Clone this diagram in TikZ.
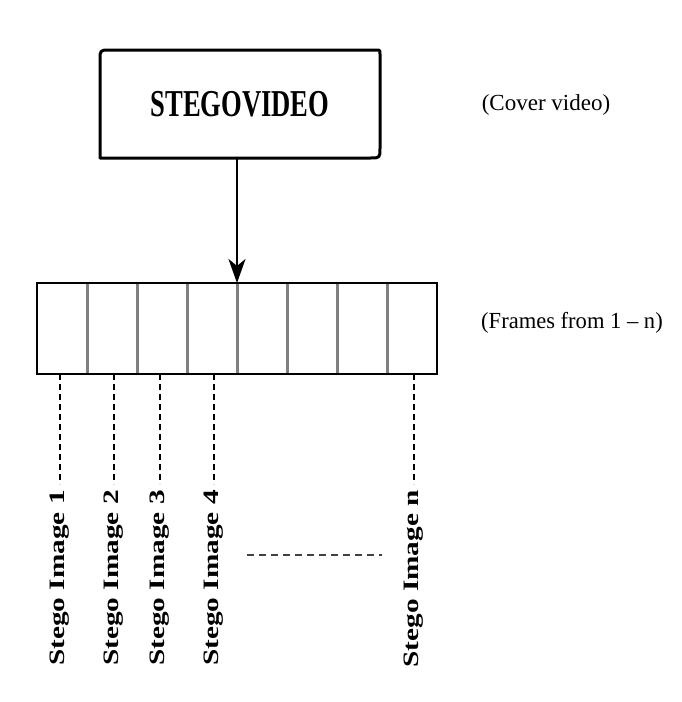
\documentclass[tikz,border=0pt]{standalone}
\usepackage{fontspec}
\setmainfont{Liberation Serif}
\usetikzlibrary{arrows.meta,calc}
\begin{document}
\begin{tikzpicture}[x=1pt,y=-1pt,
  cell/.style={minimum width=50pt,minimum height=91pt,inner sep=0pt,outer sep=0pt,anchor=north west},
  lbl/.style={rotate=90,anchor=east,inner sep=0pt,font=\fontsize{22}{22}\selectfont\bfseries},
  note/.style={inner sep=0pt,font=\fontsize{23}{23}\selectfont},
  dashline/.style={line width=1.5pt,dash pattern=on 6pt off 4pt},
  dotline/.style={line width=2pt,black!75,dash pattern=on 7pt off 5pt}]
\useasboundingbox (0,0) rectangle (682,702);
\fill[white] (0,0) rectangle (682,702);
% cover video box
\node[minimum width=280pt,minimum height=108pt,inner sep=0pt,outer sep=0pt] (video) at (240,104)
  {\raisebox{-3pt}{\scalebox{0.7}[1]{\fontsize{38}{38}\selectfont\bfseries STEGOVIDEO}}};
\draw[line width=3pt,line join=round]
  (video.south west) -- ($(video.north west)+(0,10)$)
  .. controls (video.north west) .. ($(video.north west)+(10,0)$)
  -- ($(video.north east)+(-4,0)$)
  .. controls (video.north east) .. ($(video.north east)+(0,4)$)
  -- ($(video.south east)+(0,-10)$)
  .. controls (video.south east) .. ($(video.south east)+(-10,0)$)
  -- cycle;
% frames
\foreach \i in {1,...,8} \node[cell] (c\i) at ({37+50*(\i-1)},283) {};
\foreach \i in {1,...,7} \draw[black!50,line width=3pt] (c\i.north east) -- (c\i.south east);
\draw[line width=2.2pt] (c1.north west) rectangle (c8.south east);
% arrow
\draw[line width=2.5pt,-{Stealth[length=24pt,width=17pt,inset=7pt]}]
  (video.south -| c4.north east) -- (c4.north east);
% notes
\node[note] (cover) at (546,105) {(Cover video)};
\node[note] (frames) at (572,323) {\scalebox{0.98}[1]{(Frames from 1 -- n)}};
% stego images
\node[lbl] (s1) at ($(c1.south)+(-2,116)$) {\scalebox{1.33}[1]{Stego Image 1}};
\node[lbl] (s2) at ($(c2.south)+(2,116)$) {\scalebox{1.33}[1]{Stego Image 2}};
\node[lbl] (s3) at ($(c3.south)+(-2,116)$) {\scalebox{1.33}[1]{Stego Image 3}};
\node[lbl] (s4) at ($(c4.south)+(2,116)$) {\scalebox{1.33}[1]{Stego Image 4}};
\node[lbl] (s8) at ($(c8.south)+(2,116)$) {\scalebox{1.33}[1]{Stego Image n}};
\foreach \k in {1,2,3,4,8}
  \draw[dashline] (c\k.south -| s\k.east) -- ($(s\k.east)+(0,-6)$);
% ellipsis line
\coordinate (d1) at (247,555);
\coordinate (d2) at (382,555);
\draw[dotline] (d1) -- (d2);
\end{tikzpicture}
\end{document}
